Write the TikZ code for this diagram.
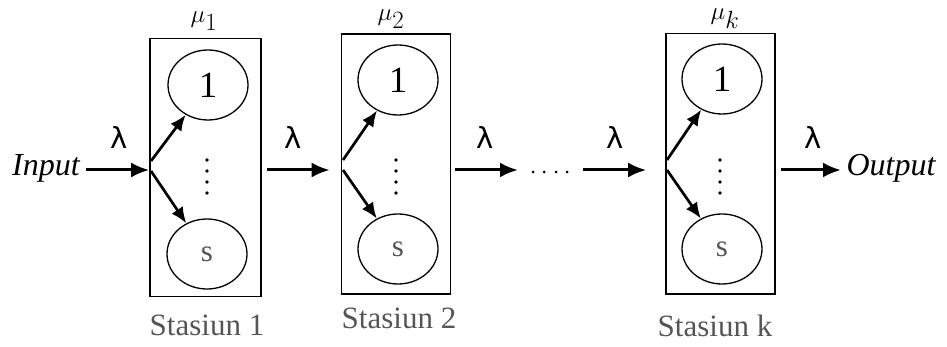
\documentclass[tikz,border=0pt]{standalone}
\usepackage{fontspec}
\setmainfont{Liberation Serif}
\newfontfamily\lamfont{DejaVu Sans}
\usetikzlibrary{arrows.meta,shapes.geometric}
\definecolor{labgray}{RGB}{85,85,85}
\tikzset{
  station/.style={draw, line width=1.6pt, rectangle, inner sep=0pt},
  server/.style={draw, line width=1.3pt, ellipse, inner sep=0pt,
                 minimum width=80pt, minimum height=70pt},
  flow/.style={line width=3pt, -{Latex[length=18pt,width=15pt]}},
  fan/.style={line width=2.7pt, -{Latex[length=16pt,width=13.5pt]}},
  lam/.style={font=\lamfont\fontsize{29}{29}\selectfont},
  rate/.style={font=\fontsize{35}{35}\selectfont},
  stlabel/.style={text=labgray, font=\fontsize{31}{31}\selectfont},
  tag/.style={font=\itshape\fontsize{32}{32}\selectfont},
  dot/.style={fill, circle, inner sep=0pt, minimum size=3.8pt}
}
\begin{document}
\begin{tikzpicture}[x=1pt,y=-1pt]
\useasboundingbox (0,0) rectangle (947,347);

% stations
\node[station, minimum width=111pt, minimum height=258pt] (b1) at (205.5,167.5) {};
\node[station, minimum width=109pt, minimum height=260pt] (b2) at (396,164) {};
\node[station, minimum width=109pt, minimum height=260pt] (bk) at (720.5,163.7) {};

% servers
\node[server, font=\fontsize{37}{37}\selectfont] (s11) at (208,85) {1};
\node[server, text=labgray, font=\fontsize{31}{31}\selectfont] (s1s) at (207,254) {s};
\node[server, font=\fontsize{37}{37}\selectfont] (s21) at (398,80) {1};
\node[server, text=labgray, font=\fontsize{31}{31}\selectfont] (s2s) at (398,249) {s};
\node[server, font=\fontsize{37}{37}\selectfont] (sk1) at (722,79) {1};
\node[server, text=labgray, font=\fontsize{31}{31}\selectfont] (sks) at (722,249) {s};

% vertical ellipses between servers
\foreach \x/\n in {207/a,396/b,720/c}{
  \foreach \y/\m in {160/1,171/2,182/3,193/4}
    \node[dot] (v\n\m) at (\x,\y) {};
}

% service rates
\node[rate] (m1) at (204,21) {$\mu_1$};
\node[rate] (m2) at (391,19) {$\mu_2$};
\node[rate] (mk) at (725,19) {$\mu_k$};

% station names
\node[stlabel] (t1) at (207,325) {Stasiun 1};
\node[stlabel] (t2) at (399,318) {Stasiun 2};
\node[stlabel] (tk) at (715,326) {Stasiun k};

% input / output
\node[tag] (in) at (46,168) {Input};
\node[tag] (out) at (891,168) {Output};

% arrival rates
\node[lam] (l0) at (119,137) {λ};
\node[lam] (l1) at (293,137) {λ};
\node[lam] (l2) at (485,137) {λ};
\node[lam] (l3) at (615,137) {λ};
\node[lam] (l4) at (813,137) {λ};

% dots between stations
\foreach \x/\m in {533/1,544/2,556/3,567/4}
  \node[dot, minimum size=3pt] (h\m) at (\x,172) {};

% entry points of the split arrows
\coordinate (p1a) at (151,161); \coordinate (p1b) at (151,171);
\coordinate (p2a) at (343,160); \coordinate (p2b) at (343,170);
\coordinate (pka) at (667,160); \coordinate (pkb) at (667,170);

% main flow
\coordinate (lane) at (0,170);
\coordinate (beforedots) at (518,170);
\coordinate (afterdots) at (583,170);
\draw[flow, shorten <=3pt] (in.east |- lane) -- (b1.west |- lane);
\draw[flow, shorten <=5pt, shorten >=11pt] (b1.east |- lane) -- (b2.west |- lane);
\draw[flow, shorten <=4pt] (b2.east |- lane) -- (beforedots);
\draw[flow, shorten >=19pt] (afterdots) -- (bk.west |- lane);
\draw[flow, shorten <=5pt, shorten >=2pt] (bk.east |- lane) -- (out.west |- lane);

% split to servers
\draw[fan] (p1a) -- (s11);
\draw[fan] (p1b) -- (s1s);
\draw[fan] (p2a) -- (s21);
\draw[fan] (p2b) -- (s2s);
\draw[fan] (pka) -- (sk1);
\draw[fan] (pkb) -- (sks);
\end{tikzpicture}
\end{document}
